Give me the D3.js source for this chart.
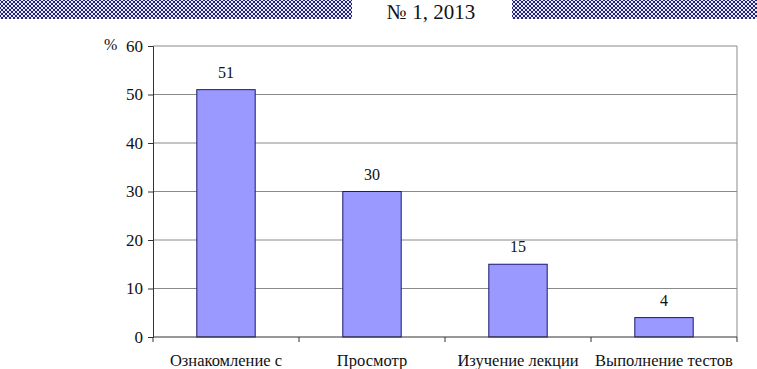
<!DOCTYPE html>
<html>
<head>
<meta charset="utf-8">
<script src="https://cdn.jsdelivr.net/npm/d3@7"></script>
<style>
body { margin: 0; background: #fff; }
svg text { font-family: "Liberation Serif", "DejaVu Serif", serif !important; }
</style>
</head>
<body>
<div class="chart"></div>
<script>
const width = 757;
const height = 369;

const categories = ["Ознакомление с", "Просмотр", "Изучение лекции", "Выполнение тестов"];
const values = [51, 30, 15, 4];
const yTicks = [0, 10, 20, 30, 40, 50, 60];
const headerText = "№ 1, 2013";

const margin = {left: 153, right: 20, top: 46, bottom: 32};

const svg = d3.select('.chart').append('svg')
    .attr('width', width)
    .attr('height', height);

// hatched header bands
const defs = svg.append('defs');
const hatch = defs.append('pattern')
    .attr('id', 'hatch')
    .attr('patternUnits', 'userSpaceOnUse')
    .attr('width', 4)
    .attr('height', 4);
hatch.append('rect').attr('width', 4).attr('height', 4).attr('fill', '#e6e6f4');
hatch.append('path')
    .attr('d', 'M0,0 l2,2 l2,-2 M0,4 l2,-2 l2,2')
    .attr('stroke', '#23237a')
    .attr('stroke-width', 1)
    .attr('fill', 'none');

svg.append('rect').attr('x', 0).attr('y', 0).attr('width', 352).attr('height', 19).attr('fill', 'url(#hatch)');
svg.append('rect').attr('x', 512).attr('y', 0).attr('width', 245).attr('height', 19).attr('fill', 'url(#hatch)');

svg.append('text')
    .attr('x', 431)
    .attr('y', 19)
    .attr('text-anchor', 'middle')
    .attr('font-size', '21px')
    .attr('fill', '#111')
    .text(headerText);

const x = d3.scaleBand()
    .domain(categories)
    .range([margin.left, width - margin.right])
    .paddingInner(0.6)
    .paddingOuter(0.3);

const y = d3.scaleLinear()
    .domain([0, 60])
    .range([height - margin.bottom, margin.top]);

// gridlines
svg.append('g')
    .selectAll('line')
    .data(yTicks.filter(d => d > 0))
    .join('line')
    .attr('x1', margin.left)
    .attr('x2', width - margin.right)
    .attr('y1', d => y(d))
    .attr('y2', d => y(d))
    .attr('stroke', '#8a8a8a')
    .attr('stroke-width', 1);

// right border of plot
svg.append('line')
    .attr('x1', width - margin.right).attr('x2', width - margin.right)
    .attr('y1', y(60)).attr('y2', y(0))
    .attr('stroke', '#8a8a8a');

// bars
svg.append('g')
    .selectAll('rect')
    .data(values)
    .join('rect')
    .attr('x', (d, i) => x(categories[i]))
    .attr('y', d => y(d))
    .attr('width', x.bandwidth())
    .attr('height', d => y(0) - y(d))
    .attr('fill', '#9999ff')
    .attr('stroke', '#1a1a6e')
    .attr('stroke-width', 1);

// value labels
svg.append('g')
    .selectAll('text')
    .data(values)
    .join('text')
    .attr('x', (d, i) => x(categories[i]) + x.bandwidth() / 2)
    .attr('y', d => y(d) - 12)
    .attr('text-anchor', 'middle')
    .attr('font-size', '16px')
    .attr('fill', '#111')
    .text(d => d);

// y axis
const yAxis = svg.append('g')
    .attr('transform', `translate(${margin.left},0)`)
    .call(d3.axisLeft(y).tickValues(yTicks).tickSize(5).tickPadding(5));
yAxis.select('.domain').attr('stroke', '#333');
yAxis.selectAll('.tick line').attr('stroke', '#333');
yAxis.selectAll('.tick text')
    .attr('font-size', '17px')
    .attr('fill', '#111');

// x axis with ticks between categories
const xg = svg.append('g').attr('transform', `translate(0,${y(0)})`);
xg.append('line')
    .attr('x1', margin.left).attr('x2', width - margin.right)
    .attr('stroke', '#333');
const step = x.step();
xg.selectAll('.sep')
    .data(d3.range(categories.length + 1))
    .join('line')
    .attr('x1', i => margin.left + i * step)
    .attr('x2', i => margin.left + i * step)
    .attr('y1', 0).attr('y2', 5)
    .attr('stroke', '#333');
xg.selectAll('.lbl')
    .data(categories)
    .join('text')
    .attr('x', d => x(d) + x.bandwidth() / 2)
    .attr('y', 29)
    .attr('text-anchor', 'middle')
    .attr('font-size', '16.5px')
    .attr('fill', '#111')
    .text(d => d);

svg.append('text')
    .attr('x', 104)
    .attr('y', 50)
    .attr('font-size', '16px')
    .attr('fill', '#111')
    .text('%');
</script>
</body>
</html>
